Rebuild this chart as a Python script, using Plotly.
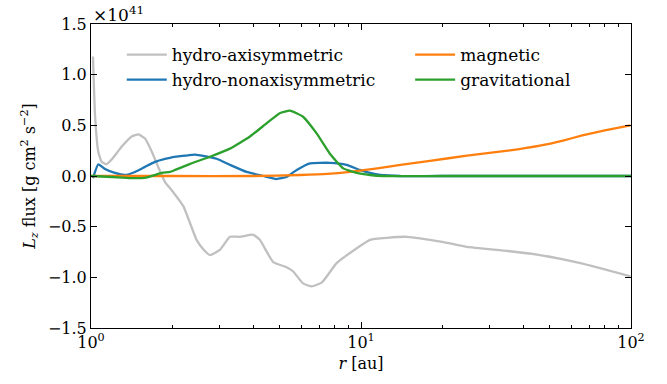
import plotly.graph_objects as go

# Angular momentum flux components vs radius (units of 1e41 g cm^2 s^-2)
r_axi = [1.017, 1.035, 1.064, 1.095, 1.14, 1.19, 1.30, 1.415, 1.50, 1.585, 1.68, 1.78, 1.88,
         1.99, 2.2, 2.46, 2.62, 2.76, 3.0, 3.27, 3.56, 3.99, 4.22, 4.73, 5.3, 5.6, 6.1, 6.57,
         7.17, 8.12, 9.1, 10.8, 12.5, 14.8, 20.0, 24.7, 35.0, 46.0, 65.0, 99.5]
f_axi = [1.18, 0.60, 0.24, 0.14, 0.115, 0.16, 0.29, 0.39, 0.41, 0.37, 0.24, 0.08, -0.06,
         -0.14, -0.30, -0.63, -0.73, -0.78, -0.73, -0.60, -0.60, -0.58, -0.63, -0.85, -0.90,
         -0.94, -1.06, -1.09, -1.05, -0.86, -0.76, -0.63, -0.61, -0.60, -0.65, -0.70, -0.74,
         -0.78, -0.86, -0.99]

r_nonaxi = [1.017, 1.064, 1.127, 1.227, 1.336, 1.455, 1.585, 1.726, 1.88, 1.96, 2.23, 2.43,
            2.92, 3.27, 3.77, 4.35, 4.86, 5.3, 5.78, 6.47, 7.67, 8.84, 9.9, 10.8, 11.8, 14.0,
            20.0, 50.0, 100.0]
f_nonaxi = [-0.02, 0.115, 0.07, 0.03, 0.01, 0.04, 0.09, 0.14, 0.17, 0.18, 0.20, 0.21,
            0.17, 0.11, 0.04, 0.00, -0.03, -0.01, 0.06, 0.125, 0.13, 0.11, 0.06, 0.03, 0.01, 0.0,
            0.0, 0.0, 0.0]

r_mag = [1.0, 2.0, 4.0, 5.94, 7.5, 9.1, 11.5, 14.0, 18.0, 24.7, 35.0, 46.0, 56.0, 66.0, 80.0, 99.5]
f_mag = [0.0, 0.0, 0.0, 0.01, 0.02, 0.04, 0.075, 0.11, 0.15, 0.20, 0.25, 0.30, 0.35, 0.40, 0.45, 0.50]

r_grav = [1.0, 1.2, 1.4, 1.6, 1.83, 1.96, 2.05, 2.33, 2.76, 3.27, 3.88, 4.47, 5.0, 5.46, 6.1,
          6.85, 7.67, 8.6, 9.64, 10.8, 12.1, 20.0, 50.0, 100.0]
f_grav = [0.0, -0.01, -0.02, -0.015, 0.03, 0.04, 0.06, 0.12, 0.19, 0.27, 0.39, 0.52, 0.62,
          0.645, 0.585, 0.42, 0.22, 0.075, 0.03, 0.01, 0.0, 0.0, 0.0, 0.0]

x_ticks = [1, 10, 100]
x_ticktext = ["10<sup>0</sup>", "10<sup>1</sup>", "10<sup>2</sup>"]
x_minor = [2, 3, 4, 5, 6, 7, 8, 9, 20, 30, 40, 50, 60, 70, 80, 90]

FONT = "DejaVu Serif"

# name, r, flux, colour, legend box
series = [
    ("hydro-axisymmetric", r_axi, f_axi, "#c0c0c0", "legend"),
    ("hydro-nonaxisymmetric", r_nonaxi, f_nonaxi, "#1f77b4", "legend"),
    ("magnetic", r_mag, f_mag, "#ff7f0e", "legend2"),
    ("gravitational", r_grav, f_grav, "#2ca02c", "legend2"),
]

fig = go.Figure()
for name, r, f, color, leg in series:
    fig.add_trace(go.Scatter(
        x=r, y=f, name=name, mode="lines",
        line=dict(color=color, width=2.3, shape="spline", smoothing=0.4),
        legend=leg,
    ))

axis_common = dict(
    showgrid=False, zeroline=False, showline=True, linecolor="black", linewidth=1,
    ticks="inside", mirror="ticks", tickcolor="black", ticklen=6, tickwidth=1,
    tickfont=dict(family=FONT, size=16, color="black"),
)

fig.update_xaxes(
    type="log", range=[0, 2], tickvals=x_ticks, ticktext=x_ticktext,
    minor=dict(ticks="inside", ticklen=3, tickcolor="black", tickvals=x_minor, showgrid=False),
    title=dict(text="<i>r</i> [au]", font=dict(family=FONT, size=16, color="black"), standoff=6),
    **axis_common,
)
fig.update_yaxes(
    range=[-1.5, 1.5], dtick=0.5, tickformat=".1f",
    title=dict(text="<i>L<sub>z</sub></i> flux [g cm<sup>2</sup> s<sup>−2</sup>]",
               font=dict(family=FONT, size=16, color="black"), standoff=8),
    **axis_common,
)

fig.add_annotation(
    text="×10<sup>41</sup>", xref="paper", yref="paper", x=0.0, y=1.0,
    xanchor="left", yanchor="bottom", showarrow=False, yshift=-3,
    font=dict(family=FONT, size=17, color="black"),
)

legend_style = dict(
    orientation="v", yanchor="top", xanchor="left", y=0.957,
    itemwidth=40, bgcolor="rgba(0,0,0,0)", tracegroupgap=0,
    font=dict(family=FONT, size=17, color="black"),
)

fig.update_layout(
    width=667, height=384,
    margin=dict(l=91, r=36, t=24, b=56),
    paper_bgcolor="white", plot_bgcolor="white",
    showlegend=True,
    legend=dict(x=0.057, **legend_style),
    legend2=dict(x=0.591, **legend_style),
)

fig.write_html("out.html")
